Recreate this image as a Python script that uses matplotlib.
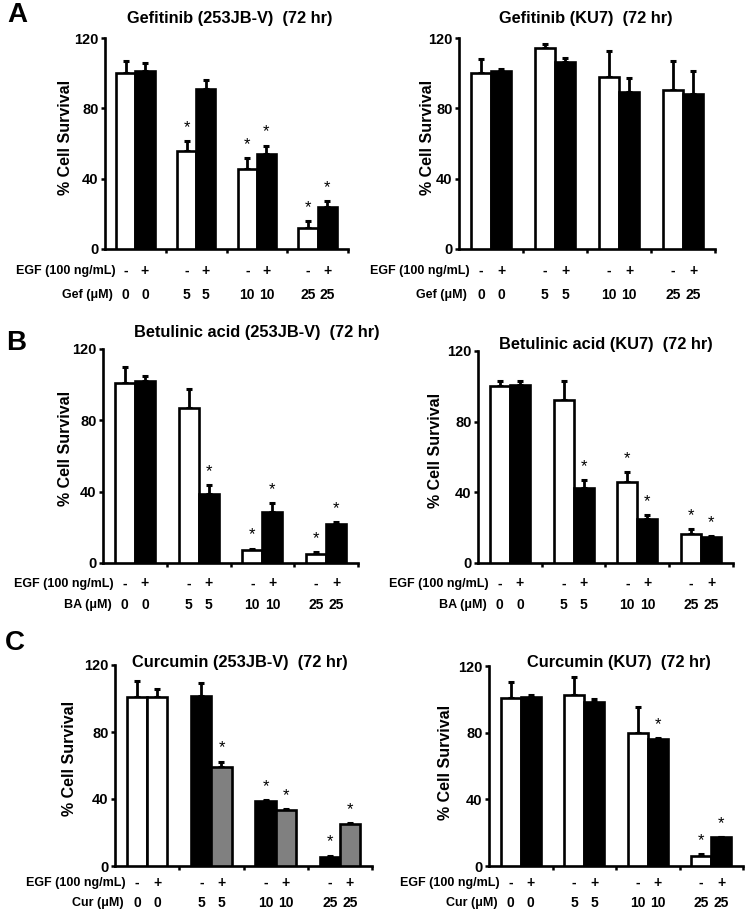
import matplotlib
matplotlib.use('Agg')
import matplotlib.pyplot as plt

plt.rcParams['font.family'] = ['Liberation Sans', 'DejaVu Sans']

# x-axis rows
egf_signs = ['-', '+', '-', '+', '-', '+', '-', '+']
doses = ['0', '0', '5', '5', '10', '10', '25', '25']

# A: Gefitinib
gef_253_mean = [100, 101, 55.5, 91, 45.7, 54.2, 12, 23.9]
gef_253_err = [7, 4.5, 6, 5, 6, 4.6, 4, 3.2]
gef_253_sig = [0, 0, 1, 0, 1, 1, 1, 1]

gef_ku7_mean = [100, 101, 114.5, 106.5, 97.7, 89.3, 90.6, 88.2]
gef_ku7_err = [8, 1.5, 2, 2, 15, 8, 16.5, 13]
gef_ku7_sig = [0, 0, 0, 0, 0, 0, 0, 0]

# B: Betulinic acid
ba_253_mean = [100.9, 101.8, 86.8, 38.6, 7.1, 28.7, 4.9, 21.7]
ba_253_err = [9, 3, 11, 5, 1, 4.7, 1.3, 1.3]
ba_253_sig = [0, 0, 0, 1, 1, 1, 1, 1]

ba_ku7_mean = [100, 101, 92.2, 42.3, 45.7, 25, 16.5, 14.5]
ba_ku7_err = [3, 2, 11, 4.7, 6, 2.3, 2.6, 0.6]
ba_ku7_sig = [0, 0, 0, 1, 1, 1, 1, 1]

# C: Curcumin
cur_253_mean = [100.7, 100.7, 101.5, 59.3, 38.8, 33.4, 5.6, 25]
cur_253_err = [10, 5, 8, 3, 0.6, 0.6, 0.6, 0.8]
cur_253_sig = [0, 0, 0, 1, 1, 1, 1, 1]

cur_ku7_mean = [100.6, 101.2, 102.6, 98.5, 80, 76, 6.2, 17.2]
cur_ku7_err = [10, 1.4, 11, 1.5, 15.6, 0.6, 0.8, 0.4]
cur_ku7_sig = [0, 0, 0, 0, 0, 1, 1, 1]

W, H = 752, 917
fig = plt.figure(figsize=(W / 100, H / 100), dpi=100)

col_std = ['white', 'black'] * 4
col_cur = ['white', 'white', 'black', '#808080', 'black', '#808080', 'black', '#808080']


def px_axes(x0, x1, ytop, ybot):
    return fig.add_axes([x0 / W, 1 - ybot / H, (x1 - x0) / W, (ybot - ytop) / H])


def panel(box, mean, err, sig, colors, title, title_xy, ylab_xy, drug, rows_off):
    x0, x1, ytop, ybot = box
    ax = px_axes(x0, x1, ytop, ybot)
    bw = 0.315
    xs = []
    for g in range(4):
        xs += [g + 0.5 - bw / 2, g + 0.5 + bw / 2]
    ax.bar(xs, mean, width=bw, color=colors, edgecolor='black', linewidth=1.9, zorder=3)
    ax.errorbar(xs, mean, yerr=[[0] * 8, err], fmt='none', ecolor='black',
                elinewidth=2.0, capsize=2.5, capthick=2.2, zorder=2)
    for x, m, e, s in zip(xs, mean, err, sig):
        if s:
            ax.annotate('*', (x, m + e), xytext=(0, 6.5), textcoords='offset points',
                        ha='center', va='baseline', fontsize=12)
    ax.set_xlim(0, 4)
    ax.set_ylim(0, 120)
    ax.set_yticks([0, 40, 80, 120])
    ax.set_xticks([1, 2, 3, 4])
    ax.set_xticklabels([])
    for lab in ax.get_yticklabels():
        lab.set_fontweight('bold')
        lab.set_fontsize(10.5)
    ax.tick_params(axis='y', direction='out', length=3, width=1.8, pad=1.5)
    ax.tick_params(axis='x', direction='out', length=3, width=1.8)
    for sp in ['top', 'right']:
        ax.spines[sp].set_visible(False)
    for sp in ['left', 'bottom']:
        ax.spines[sp].set_linewidth(1.9)
    ax.patch.set_alpha(0)

    # rows under x-axis
    r1, r2 = rows_off
    for x, s, d in zip(xs, egf_signs, doses):
        ax.annotate(s, (x, 0), xycoords=('data', 'axes fraction'), xytext=(0, -r1 * 0.72),
                    textcoords='offset points', ha='center', va='center',
                    fontsize=10, fontweight='bold')
        ax.annotate(d, (x, 0), xycoords=('data', 'axes fraction'), xytext=(0, -r2 * 0.72),
                    textcoords='offset points', ha='center', va='center',
                    fontsize=10, fontweight='bold')
    ax.annotate('EGF (100 ng/mL)', (0, 0), xycoords='axes fraction', xytext=(7.5, -r1 * 0.72),
                textcoords='offset points', ha='right', va='center',
                fontsize=9, fontweight='bold')
    ax.annotate(drug + ' (\u03bcM)', (0, 0), xycoords='axes fraction', xytext=(6, -r2 * 0.72),
                textcoords='offset points', ha='right', va='center',
                fontsize=9, fontweight='bold')

    fig.text(title_xy[0] / W, 1 - title_xy[1] / H, title, ha='center', va='center',
             fontsize=11.8, fontweight='bold')
    fig.text(ylab_xy[0] / W, 1 - ylab_xy[1] / H, '% Cell Survival', rotation=90,
             ha='center', va='center', fontsize=11.5, fontweight='bold')
    return ax


panel((105, 348, 38, 249), gef_253_mean, gef_253_err, gef_253_sig, col_std,
      'Gefitinib (253JB-V)  (72 hr)', (230, 18), (65, 137), 'Gef', (22, 46))
panel((459, 715, 38, 249), gef_ku7_mean, gef_ku7_err, gef_ku7_sig, col_std,
      'Gefitinib (KU7)  (72 hr)', (586, 18), (427, 137), 'Gef', (22, 46))
panel((103, 358, 349, 563), ba_253_mean, ba_253_err, ba_253_sig, col_std,
      'Betulinic acid (253JB-V)  (72 hr)', (257, 333), (66, 448), 'BA', (20.5, 42))
panel((478, 733, 351, 563), ba_ku7_mean, ba_ku7_err, ba_ku7_sig, col_std,
      'Betulinic acid (KU7)  (72 hr)', (606, 345), (435, 450), 'BA', (20.5, 42))
panel((115, 372, 665, 866), cur_253_mean, cur_253_err, cur_253_sig, col_cur,
      'Curcumin (253JB-V)  (72 hr)', (240, 662), (70, 758), 'Cur', (17, 37))
panel((489, 743, 666, 866), cur_ku7_mean, cur_ku7_err, cur_ku7_sig, col_std,
      'Curcumin (KU7)  (72 hr)', (619, 662), (446, 762), 'Cur', (17, 37))

for letter, (lx, ly) in zip(['A', 'B', 'C'], [(17, 15), (16, 343), (15, 643)]):
    fig.text(lx / W, 1 - ly / H, letter, ha='center', va='center', fontsize=20, fontweight='bold')

fig.savefig('out.png', dpi=100)
